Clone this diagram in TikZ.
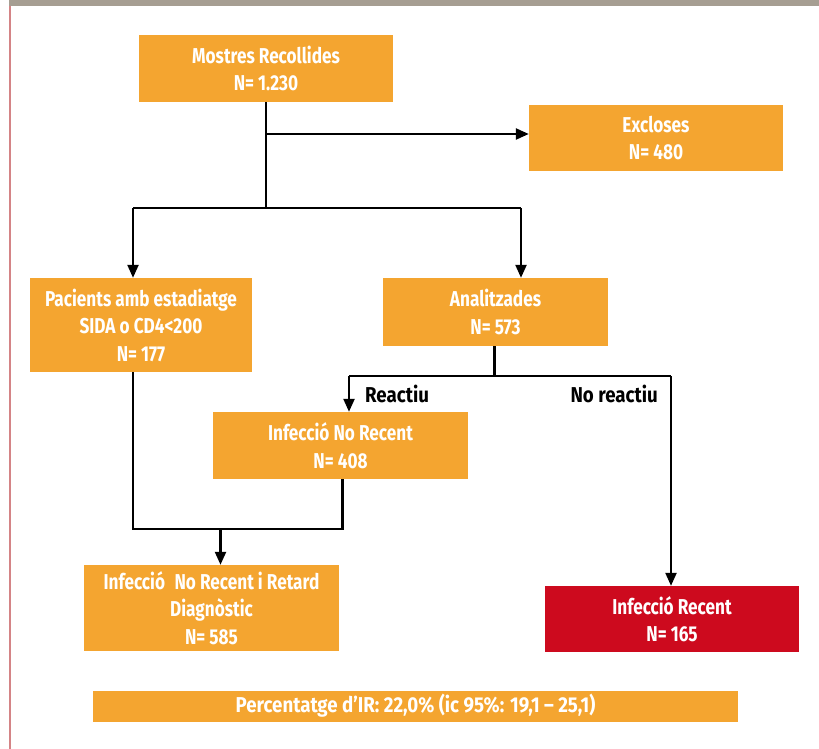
\documentclass[tikz,border=0pt]{standalone}
\usepackage{fontspec}
\setmainfont{Fira Sans}[FakeStretch=0.8, BoldFeatures={FakeStretch=0.8}]
\newfontfamily\widefont{Fira Sans}[FakeStretch=0.87, BoldFeatures={FakeStretch=0.87}]
\usetikzlibrary{arrows.meta}
\definecolor{boxorange}{HTML}{F4A530}
\definecolor{boxred}{HTML}{CD0A1E}
\definecolor{bargray}{HTML}{A69E92}
\definecolor{edgered}{HTML}{D48486}
\tikzset{
  box/.style={fill=boxorange, draw=none, text=white, font=\fontsize{21.5}{27.5}\selectfont\bfseries, align=center, inner sep=0pt},
  redbox/.style={box, fill=boxred},
  conn/.style={line width=2.3pt, draw=black},
  arr/.style={conn, -{Triangle[length=13pt,width=11pt]}},
  lbl/.style={font=\widefont\fontsize{21.5}{24}\selectfont\bfseries, text=black, inner sep=0pt}
}
\begin{document}
\begin{tikzpicture}[x=1pt,y=-1pt]
\useasboundingbox (0,0) rectangle (819,749);
\fill[white] (0,0) rectangle (819,749);
\fill[bargray] (9,0) rectangle (819,6.5);
\draw[edgered, line width=1.3pt] (10,6.5) -- (10,749);

\node[box, minimum width=254pt, minimum height=67pt] (mostres) at (266,68.5) {Mostres Recollides\\N= 1.230};
\node[box, minimum width=254pt, minimum height=66pt] (excloses) at (656,138) {Excloses\\N= 480};
\node[box, minimum width=222pt, minimum height=94pt] (pacients) at (141,325) {Pacients amb estadiatge\\SIDA o CD4<200\\N= 177};
\node[box, minimum width=225pt, minimum height=68pt] (anal) at (495.5,312) {Analitzades\\N= 573};
\node[box, minimum width=255pt, minimum height=67pt] (norecent) at (340.5,445.5) {Infecció No Recent\\N= 408};
\node[box, minimum width=255pt, minimum height=86pt] (retard) at (211.5,608) {Infecció\hspace{0.25em} No Recent i Retard\\Diagnòstic\\N= 585};
\node[redbox, minimum width=254pt, minimum height=66pt] (recent) at (672,619) {Infecció Recent\\N= 165};
\node[box, minimum width=645pt, minimum height=31pt, font=\widefont\fontsize{21.5}{24}\selectfont\bfseries] (pct) at (415.5,706) {Percentatge d’IR: 22,0\% (ic 95\%: 19,1 – 25,1)};

% from Mostres
\coordinate (j1) at (266,134);
\coordinate (j2) at (266,208);
\coordinate (jl) at (133,208);
\coordinate (jr) at (521,208);
\draw[conn] (mostres.south) -- (j2);
\draw[arr] (j1) -- (excloses.west |- j1);
\draw[conn] (jl) -- (jr);
\draw[arr] (jl) -- (jl |- pacients.north);
\draw[arr] (jr) -- (jr |- anal.north);

% from Analitzades
\coordinate (a1) at (494.5,376);
\coordinate (al) at (349,376);
\coordinate (ar) at (671,376);
\draw[conn] (anal.south -| a1) -- (a1);
\draw[conn] (al) -- (ar);
\draw[arr] (al) -- (al |- norecent.north);
\draw[arr] (ar) -- (ar |- recent.north);
\node[lbl, anchor=base west] (reactiu) at (365,402) {Reactiu};
\node[lbl, anchor=base east] (noreactiu) at (658,402) {No reactiu};

% merge to Retard
\coordinate (m1) at (133,529);
\coordinate (m2) at (342.5,529);
\coordinate (mc) at (220.5,529);
\draw[conn] (pacients.south -| m1) -- (m1) -- (m2) -- (norecent.south -| m2);
\draw[arr] (mc) -- (mc |- retard.north);
\end{tikzpicture}
\end{document}
